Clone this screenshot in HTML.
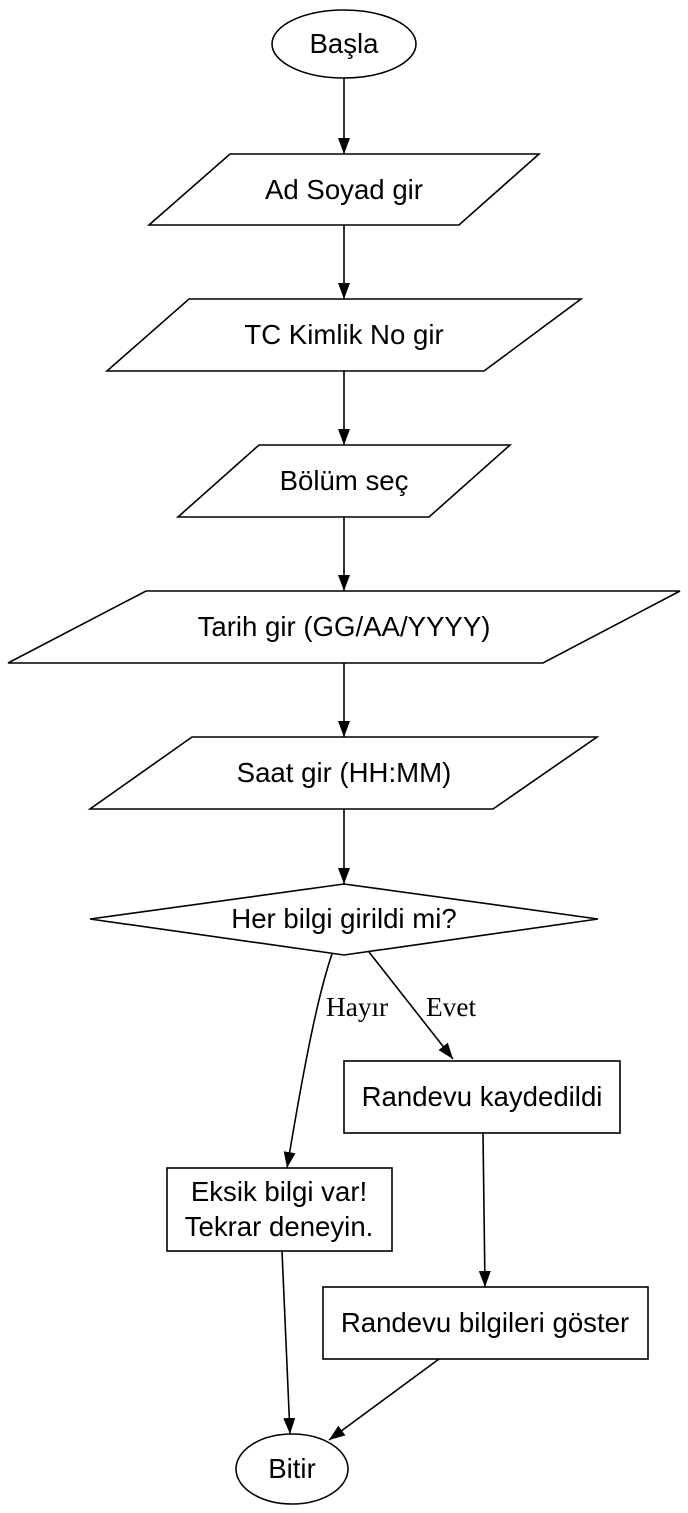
<!DOCTYPE html>
<html><head><meta charset="utf-8"><style>
html,body{margin:0;padding:0;background:#fff;}
svg{display:block;}
.n{fill:#fff;stroke:#000;stroke-width:1.6;}
.e{fill:none;stroke:#000;stroke-width:1.6;}
.t{font-family:"Liberation Sans",sans-serif;font-size:27.6px;fill:#000;text-anchor:middle;}
.l{font-family:"Liberation Serif",serif;font-size:27.3px;fill:#000;}
</style></head><body>
<svg width="688" height="1513" viewBox="0 0 688 1513" xmlns="http://www.w3.org/2000/svg">
<defs><marker id="ah" markerWidth="16" markerHeight="12" refX="16" refY="6" orient="auto" markerUnits="userSpaceOnUse" viewBox="0 0 16 12"><path d="M0,0 L16,6 L0,12 Z" fill="#000"/></marker></defs>
<g id="edges"></g>
<g><ellipse class="n" cx="344" cy="44" rx="72" ry="34"/><text class="t" x="344" y="53">Başla</text></g>
<g><polygon class="n" points="230,154 539,154 459,225 149,225"/><text class="t" x="344" y="199">Ad Soyad gir</text></g>
<g><polygon class="n" points="189,299 581,299 484,371 107,371"/><text class="t" x="344" y="344">TC Kimlik No gir</text></g>
<g><polygon class="n" points="259,445 510,445 429,517 178,517"/><text class="t" x="344" y="490">Bölüm seç</text></g>
<g><polygon class="n" points="146,591 680,591 543,663 8,663"/><text class="t" x="344" y="636">Tarih gir (GG/AA/YYYY)</text></g>
<g><polygon class="n" points="192,737 597,737 493,809 90,809"/><text class="t" x="344" y="782">Saat gir (HH:MM)</text></g>
<g><polygon class="n" points="344,884 598,919 344,955 90,919"/><text class="t" x="344" y="928">Her bilgi girildi mi?</text></g>
<g><rect class="n" x="344" y="1061" width="276" height="72"/><text class="t" x="482" y="1106">Randevu kaydedildi</text></g>
<g><rect class="n" x="167" y="1168" width="225" height="83"/><text class="t" x="279" y="1201">Eksik bilgi var!</text><text class="t" x="279" y="1236">Tekrar deneyin.</text></g>
<g><rect class="n" x="323" y="1287" width="325" height="72"/><text class="t" x="485" y="1332">Randevu bilgileri göster</text></g>
<g><ellipse class="n" cx="292" cy="1469" rx="56" ry="35"/><text class="t" x="292" y="1478">Bitir</text></g>
<text class="l" x="326" y="1016">Hayır</text>
<text class="l" x="426" y="1016">Evet</text>
</svg>
<script>
var edges=[
 ["edge-start-name","M344,78 L344,154"],
 ["edge-name-tc","M344,225 L344,299"],
 ["edge-tc-dept","M344,371 L344,445"],
 ["edge-dept-date","M344,517 L344,591"],
 ["edge-date-time","M344,663 L344,737"],
 ["edge-time-check","M344,809 L344,884"],
 ["edge-no","M332,954 C318,995 305,1060 287,1168"],
 ["edge-yes","M369,952 L453,1059"],
 ["edge-saved-show","M483,1133 L485,1287"],
 ["edge-error-end","M282,1251 L290,1434"],
 ["edge-show-end","M439,1359 L329,1440"]
];
var g=document.getElementById('edges');
var ns="http://www.w3.org/2000/svg";
edges.forEach(function(d){
 var p=document.createElementNS(ns,'path');
 p.setAttribute('class','e');
 p.setAttribute('d',d[1]);
 p.setAttribute('marker-end','url(#ah)');
 
 
 g.appendChild(p);
});
</script>
</body></html>
